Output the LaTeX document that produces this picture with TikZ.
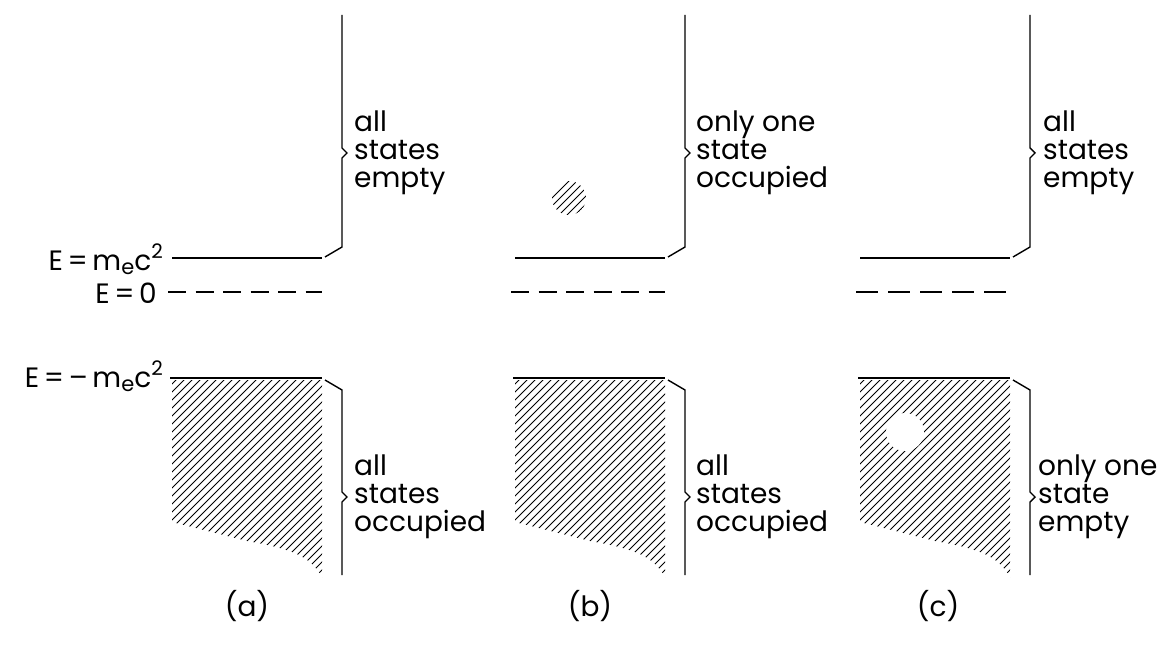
\documentclass[tikz,border=0pt]{standalone}
\usepackage{fontspec}
\setmainfont{Poppins}
\newcommand\lsub[1]{\raisebox{-0.28ex}{\fontsize{21}{21}\selectfont #1}}
\newcommand\lsup[1]{\raisebox{0.75ex}{\fontsize{20}{20}\selectfont #1}}
\tikzset{
  level/.style={line width=2pt},
  lowlevel/.style={line width=2.6pt},
  zero/.style={line width=1.9pt},
  bracepath/.style={line width=1.4pt, line join=miter},
  hatchline/.style={line width=1pt},
  lab/.style={font=\fontsize{28}{28}\selectfont, align=left, inner sep=0pt, anchor=west},
  elab/.style={font=\fontsize{28}{28}\selectfont, inner sep=0pt, anchor=base east},
  captext/.style={font=\fontsize{28}{28}\selectfont, inner sep=0pt},
}
\newcommand\panel[3]{%
\begin{scope}[xshift=#2]
  \coordinate (#1ul) at (172,258);
  \coordinate (#1ur) at (322,258);
  \coordinate (#1zl) at (168,292);
  \coordinate (#1zr) at (322,292);
  \coordinate (#1ll) at (170,378);
  \coordinate (#1lr) at (322,378);
  \draw[level] (#1ul) -- (#1ur);
  \draw[zero,#3] (#1zl) -- (#1zr);
  \draw[lowlevel] (#1ll) -- (#1lr);
  \coordinate (#1ut) at (342,15);
  \coordinate (#1utip) at (347,153);
  \coordinate (#1ub) at (325,257);
  \coordinate (#1lt) at (325,380);
  \coordinate (#1ltip) at (347,497);
  \coordinate (#1lb) at (342,575);
  \draw[bracepath] (#1ut) -- (342,148) -- (#1utip) -- (342,158) -- (342,247) -- (#1ub);
  \draw[bracepath] (#1lt) -- (342,390) -- (342,492) -- (#1ltip) -- (342,502) -- (#1lb);
  \begin{scope}
    \clip (172,380) -- (322,380) -- (322,577) .. controls (310,556) and (292,549) .. (247,541) -- (172,522) -- cycle;
    \foreach \k in {-60,-52,...,320} \draw[hatchline] (\k,600) -- ++(300,-300);
  \end{scope}
\end{scope}}
\begin{document}
\begin{tikzpicture}[x=1pt,y=-1pt]
\useasboundingbox (0,0) rectangle (1176,650);
\fill[white] (0,0) rectangle (1176,650);

\panel{a}{0pt}{dash pattern=on 18pt off 9.5pt}
\panel{b}{343pt}{dash pattern=on 18pt off 9.5pt}
\panel{c}{688pt}{dash pattern=on 22pt off 10pt}

% left energy labels
\node[elab] (emc) at (163,270) {E\,=\,m\lsub{e}c\lsup{2}};
\node[elab] (ezero) at (157,303) {E\,=\,0};
\node[elab] (emmc) at (163,387) {E\,=\,–\,m\lsub{e}c\lsup{2}};

% brace labels
\node[lab] (aup) at ([xshift=7pt]autip) {all\\states\\empty};
\node[lab] (alo) at ([xshift=7pt]altip) {all\\states\\occupied};
\node[lab] (bup) at ([xshift=6pt]butip) {only one\\state\\occupied};
\node[lab] (blo) at ([xshift=6pt]bltip) {all\\states\\occupied};
\node[lab] (cup) at ([xshift=8pt]cutip) {all\\states\\empty};
\node[lab] (clo) at ([xshift=3pt]cltip) {only one\\state\\empty};

% occupied state in (b)
\begin{scope}
  \clip (569,198) circle (17);
  \foreach \k in {520,528,...,600} \draw[hatchline] (\k,230) -- ++(70,-70);
\end{scope}
% empty state (hole) in (c)
\node[circle, fill=white, inner sep=0pt, minimum size=38pt] (hole) at (905,432) {};

% captions
\node[captext] (capa) at (247,606) {(a)};
\node[captext] (capb) at (590,606) {(b)};
\node[captext] (capc) at (938,606) {(c)};
\end{tikzpicture}
\end{document}
